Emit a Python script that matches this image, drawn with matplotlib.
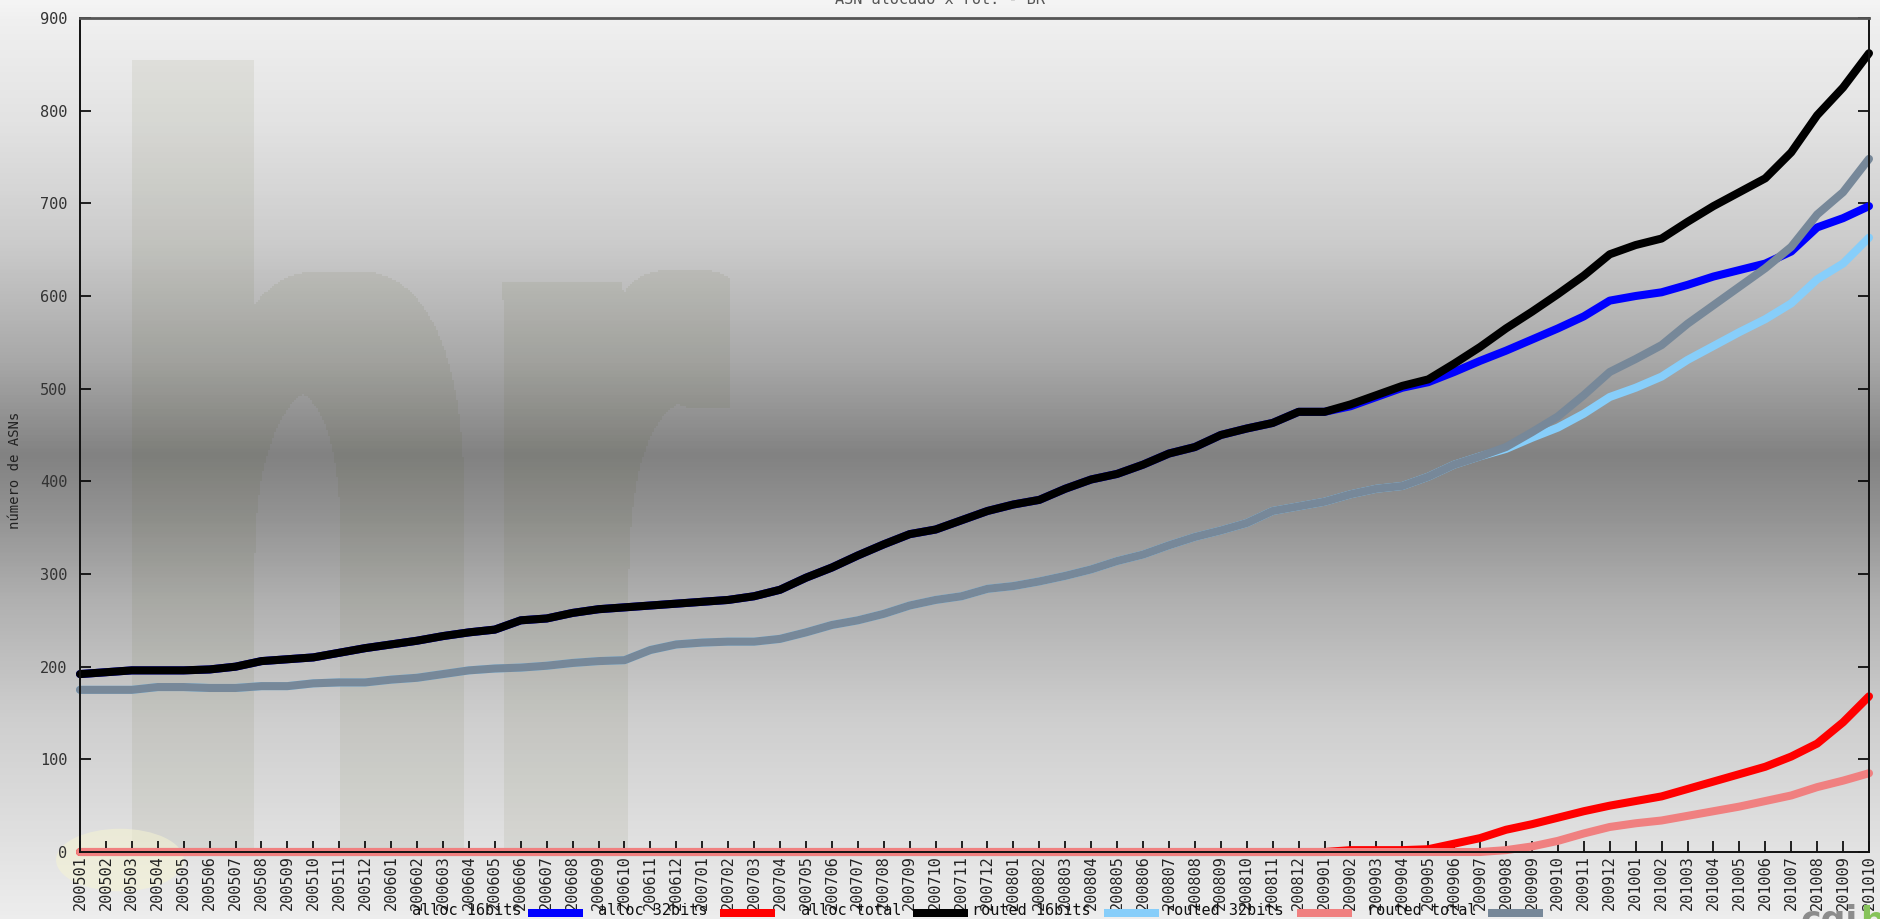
import numpy as np
import matplotlib
matplotlib.use("Agg")
import matplotlib.pyplot as plt
from matplotlib.colors import LinearSegmentedColormap
from matplotlib.patches import Rectangle, Circle
from matplotlib.textpath import TextPath
from matplotlib.font_manager import FontProperties
from matplotlib.transforms import Affine2D

# meses 200501 .. 201010
meses = [f"{a}{m:02d}" for a in range(2005, 2011) for m in range(1, 13)][:70]

alloc_total = [192, 194, 196, 196, 196, 197, 200, 206, 208, 210, 215, 220,
               224, 228, 233, 237, 240, 250, 252, 258, 262, 264, 266, 268,
               270, 272, 276, 283, 296, 307, 320, 332, 343, 348, 358, 368,
               375, 380, 392, 402, 408, 418, 430, 437, 450, 457, 463, 475,
               475, 483, 493, 503, 510, 527, 545, 565, 583, 602, 622, 645,
               655, 662, 680, 697, 712, 727, 755, 795, 825, 862]
alloc_32 = [0] * 48 + [0, 2, 2, 2, 3, 9, 15, 24, 30, 37, 44, 50,
                       55, 60, 68, 76, 84, 92, 103, 117, 140, 168]
alloc_16 = alloc_total[:49] + [481, 491, 501, 507, 518, 530, 541, 553, 565, 578, 595,
                               600, 604, 612, 621, 628, 635, 648, 674, 684, 697]

routed_total = [175, 175, 175, 178, 178, 177, 177, 179, 179, 182, 183, 183,
                186, 188, 192, 196, 198, 199, 201, 204, 206, 207, 218, 224,
                226, 227, 227, 230, 237, 245, 250, 257, 266, 272, 276, 284,
                287, 292, 298, 305, 314, 321, 331, 340, 347, 355, 368, 373,
                378, 386, 392, 395, 405, 418, 427, 437, 453, 470, 493, 518,
                532, 547, 570, 590, 610, 630, 653, 688, 712, 748]
routed_32 = [0] * 55 + [2, 6, 12, 20, 27,
                        31, 34, 39, 44, 49, 55, 61, 70, 77, 85]
routed_16 = routed_total[:55] + [435, 447, 458, 473, 491,
                                 501, 513, 531, 546, 561, 575, 592, 618, 635, 663]

series = [("alloc 16bits", alloc_16, "#0000ff"),
          ("alloc 32bits", alloc_32, "#ff0000"),
          ("alloc total", alloc_total, "#000000"),
          ("routed 16bits", routed_16, "#87cefa"),
          ("routed 32bits", routed_32, "#f08080"),
          ("routed total", routed_total, "#778899")]

W, H = 1880, 919
fig = plt.figure(figsize=(W / 100, H / 100), dpi=100)

# fundo degrade cinza
bg = fig.add_axes([0, 0, 1, 1], zorder=-10)
stops = [(0.0, 0.96), (18 / H, 0.94), (120 / H, 0.89), (240 / H, 0.80),
         (360 / H, 0.66), (455 / H, 0.51), (520 / H, 0.58), (600 / H, 0.69),
         (720 / H, 0.81), (840 / H, 0.88), (1.0, 0.93)]
cmap = LinearSegmentedColormap.from_list("g", [(p, (v, v, v)) for p, v in stops])
grad = np.linspace(0, 1, 600).reshape(-1, 1)
bg.imshow(grad, aspect="auto", cmap=cmap, extent=[0, 1, 1, 0], vmin=0, vmax=1)
bg.add_patch(Circle((120 / W, 860 / H), 0.034, color="#f6f4d2", alpha=0.55, lw=0))

# marca d'agua "hr" (mascara alargada na horizontal)
tp = TextPath((0, 0), "hr", size=1, prop=FontProperties(family="Liberation Sans", weight="bold"))
ext = tp.get_extents()
d = 40
x0p, x1p, topp, basep = 131 + d / 2, 731 - d / 2, 60, 880
to_px = (Affine2D().translate(-ext.x0, -ext.y0)
         .scale((x1p - x0p) / ext.width, (basep - topp) / ext.height)
         .translate(x0p, H - basep))
pth = to_px.transform_path(tp)
gx = np.arange(0, W, 2) + 1.0
gy = np.arange(0, H, 2) + 1.0
XX, YY = np.meshgrid(gx, gy)
pts = np.column_stack([XX.ravel(), H - YY.ravel()])
mask = pth.contains_points(pts).reshape(XX.shape)
wide = np.zeros_like(mask)
half = d // 4
for s in range(-half, half + 1):
    wide |= np.roll(mask, s, axis=1)
wide[YY > 852] = False
wide[XX < 82] = False
rgba = np.zeros(wide.shape + (4,))
rgba[..., 0], rgba[..., 1], rgba[..., 2] = 0.3, 0.33, 0.1
rgba[..., 3] = np.where(wide, 0.075, 0.0)
bg.imshow(rgba, aspect="auto", extent=[0, 1, 1, 0], interpolation="nearest")
bg.set_xlim(0, 1)
bg.set_ylim(1, 0)
bg.axis("off")

ax = fig.add_axes([80 / W, 1 - 852 / H, (1869 - 80) / W, (852 - 18) / H])
ax.set_facecolor("none")

x = np.arange(len(meses))
for nome, vals, cor in series:
    ax.plot(x, vals, color=cor, lw=5.8, solid_capstyle="round",
            solid_joinstyle="round", clip_on=False, zorder=2)

ax.set_xlim(0, len(meses) - 1)
ax.set_ylim(0, 900)
ax.set_yticks(range(0, 901, 100))
ax.set_xticks(x)

mono = "DejaVu Sans Mono"
ax.set_xticklabels(meses, rotation=90, family=mono, fontsize=11, color="#222222")
ax.set_yticklabels([str(v) for v in range(0, 901, 100)], family=mono, fontsize=11,
                   color="#333333")
ax.tick_params(axis="x", direction="in", length=8, width=1.2, pad=2)
ax.tick_params(axis="y", direction="in", length=8, width=1.2, pad=9, right=True)
for s in ax.spines.values():
    s.set_color("#111111")
    s.set_linewidth(1.4)
ax.spines["top"].set_color("#555555")
ax.spines["top"].set_linewidth(2)

fig.text(15 / W, 1 - 470 / H, "número de ASNs", rotation=90, family=mono,
         fontsize=10, color="#222222", ha="center", va="center")

fig.text(0.5, 1.0, "ASN alocado x rot. - BR", family=mono, fontsize=11,
         color="#555555", ha="center", va="center")

# legenda na base
leg_text = [412, 598, 801, 972, 1165, 1367]
leg_box = [528, 720, 913, 1104, 1297, 1488]
for (nome, vals, cor), tx, bx in zip(series, leg_text, leg_box):
    fig.text(tx / W, 4 / H, nome, family=mono, fontsize=11, color="#111111",
             ha="left", va="baseline")
    fig.add_artist(Rectangle((bx / W, 2 / H), 55 / W, 8 / H, transform=fig.transFigure,
                             color=cor, lw=0))

# logo cgi.br parcial
fig.text(1800 / W, -12 / H, "cgi", family="DejaVu Sans", weight="bold", fontsize=25,
         color="#8c8c8c", ha="left", va="baseline")
fig.text(1860 / W, -12 / H, "b", family="DejaVu Sans", weight="bold", fontsize=25,
         color="#86c35a", ha="left", va="baseline")

fig.savefig("out.png", dpi=100)
